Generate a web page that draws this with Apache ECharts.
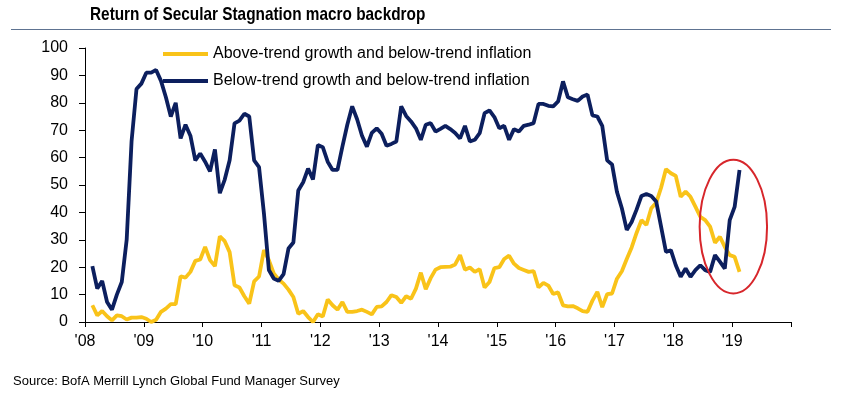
<!DOCTYPE html>
<html>
<head>
<meta charset="utf-8">
<script src="https://cdn.jsdelivr.net/npm/echarts@6/dist/echarts.min.js"></script>
<style>
  html, body { margin: 0; padding: 0; background: #fff; }
  #chart { width: 843px; height: 396px; }
</style>
</head>
<body>
<div id="chart"></div>
<script>
// monthly survey readings, Feb 2008 .. Feb 2019 (% of respondents)
const startYear = 2008;
const startMonth = 2;

const aboveTrend = [
  6.1, 2.4, 4, 2.1, 0.6, 2.4, 2.1, 0.9, 1.6, 1.6, 1.8, 1.2, 0, 0.8, 3.7, 4.9, 6.5, 6.5, 16.7, 16.2,
  18.3, 22.3, 22.8, 27.4, 22.6, 20.4, 31.3, 29.5, 25.5, 13.4, 12.6, 9.4, 6.7, 14.8, 16.6, 26.2, 22.6, 17.7, 15.5, 14,
  11.8, 9.1, 3, 4, 1.8, 0, 2.8, 2, 8.2, 6.1, 4.5, 7.3, 3.7, 3.7, 4, 4.5, 3.7, 2.8, 5.5, 5.7,
  7.3, 9.8, 9.1, 7, 9.4, 8.5, 12.2, 18, 12, 16, 19.1, 20, 20.1, 20.2, 21, 24.4, 19.1, 19.9, 18.3, 19.3,
  12.6, 14.6, 19.7, 20, 23, 24.2, 21.3, 19.7, 19, 18.3, 18.6, 12.6, 14.3, 13.3, 10.2, 10.8, 6.1, 5.7, 5.8, 5,
  4, 3.7, 7.8, 11, 5.4, 10.2, 10.4, 15.8, 18.5, 23, 27.2, 32.5, 37.2, 35.4, 41.5, 43.5, 49, 55.8, 54.3, 53.3,
  45.7, 47.6, 45.7, 42.1, 38.4, 37.2, 34.8, 28.9, 31.1, 27.4, 24.4, 23.8, 18.3
];

const belowTrend = [
  20.4, 12.2, 15, 7.3, 4.5, 10, 14.6, 30, 66, 85, 87, 91, 91, 92, 88, 82, 75, 80, 67, 72,
  68, 59, 61.5, 58.5, 55, 63, 47, 52, 59, 72.5, 73.5, 76, 75, 59, 56.5, 39.6, 19, 15.9, 15, 17.5,
  26.8, 29, 48, 51, 56, 52, 64.6, 63.8, 58.5, 55.5, 55.5, 64, 72, 78.7, 74, 68, 64, 69, 70.7, 68.7,
  64.3, 65, 65.9, 78.7, 75.2, 73.2, 70.7, 66.5, 72, 72.6, 69.5, 70.5, 71.6, 70.4, 69, 67, 71.6, 65.9, 66.5, 68.9,
  76.2, 77.2, 74.8, 70.7, 71.6, 66.5, 70.4, 69.5, 71.6, 72, 72.6, 79.6, 79.6, 78.9, 78.7, 80.5, 87.8, 82, 81.3, 80.7,
  82.3, 83, 75.4, 75, 71.6, 59, 57.5, 47.5, 41.5, 33.6, 36.5, 41, 46, 46.7, 46, 44, 34.8, 25.6, 26.2, 20.7,
  16.5, 19.5, 16.5, 18.9, 20.7, 18.9, 18.3, 24.4, 22, 19.5, 37.2, 42, 55.5
];

const seriesNames = [
  'Above-trend growth and below-trend inflation',
  'Below-trend growth and below-trend inflation'
];

const yearTicks = [2008, 2009, 2010, 2011, 2012, 2013, 2014, 2015, 2016, 2017, 2018, 2019, 2020];

// red ring around the latest readings (data units: year, percent)
const ringCenter = [2019.02, 34.8];
const ringRadius = [0.573, 24.4];

const monthPos = i => startYear + (startMonth - 1 + 0.5 + i) / 12;
const toPairs = arr => arr.map((v, i) => [monthPos(i), v]);

const font = 'Liberation Sans, Arial, sans-serif';
const yellow = '#F9C319';
const navy = '#0C1F5E';
const chart = echarts.init(document.getElementById('chart'));

const option = {
  animation: false,
  backgroundColor: '#fff',
  legend: {
    orient: 'vertical',
    left: 158,
    top: 41,
    icon: 'rect',
    itemWidth: 45,
    itemHeight: 4,
    itemGap: 11,
    textStyle: { fontFamily: font, fontSize: 16, color: '#000' },
    data: seriesNames
  },
  grid: { left: 85, right: 52, top: 48, bottom: 74 },
  xAxis: {
    type: 'value',
    min: 2008,
    max: 2020,
    interval: 1,
    axisLine: { lineStyle: { color: '#000', width: 1 } },
    axisTick: { show: true, length: 5, lineStyle: { color: '#000' } },
    axisLabel: {
      fontFamily: font,
      fontSize: 16,
      color: '#000',
      margin: 12,
      formatter: v => (yearTicks.indexOf(v) >= 0 && v < 2020) ? "'" + String(v).slice(2) : ''
    },
    splitLine: { show: false }
  },
  yAxis: {
    type: 'value',
    min: 0,
    max: 100,
    interval: 10,
    axisLine: { show: true, lineStyle: { color: '#000', width: 1 } },
    axisTick: { show: true, length: 6, lineStyle: { color: '#000' } },
    axisLabel: { fontFamily: font, fontSize: 16, color: '#000', margin: 17 },
    splitLine: { show: false }
  },
  series: [
    {
      name: seriesNames[0],
      type: 'line',
      data: toPairs(aboveTrend),
      symbol: 'none',
      lineStyle: { color: yellow, width: 3.8 },
      itemStyle: { color: yellow },
      z: 2
    },
    {
      name: seriesNames[1],
      type: 'line',
      data: toPairs(belowTrend),
      symbol: 'none',
      lineStyle: { color: navy, width: 3.8 },
      itemStyle: { color: navy },
      z: 3
    }
  ]
};

chart.setOption(option);

// annotation, header (condensed bold), rule and source line
const c = chart.convertToPixel({ gridIndex: 0 }, ringCenter);
const edge = chart.convertToPixel({ gridIndex: 0 }, [ringCenter[0] + ringRadius[0], ringCenter[1] + ringRadius[1]]);
chart.setOption({
  graphic: [
    {
      type: 'ellipse',
      shape: { cx: c[0], cy: c[1], rx: Math.abs(edge[0] - c[0]), ry: Math.abs(c[1] - edge[1]) },
      style: { fill: 'none', stroke: '#D7262B', lineWidth: 2 },
      z: 10
    },
    {
      type: 'text',
      x: 90,
      y: 5,
      scaleX: 0.83,
      style: {
        text: 'Return of Secular Stagnation macro backdrop',
        fontFamily: font,
        fontWeight: 'bold',
        fontSize: 18.5,
        fill: '#000'
      }
    },
    {
      type: 'line',
      shape: { x1: 11, y1: 29.5, x2: 831, y2: 29.5 },
      style: { stroke: '#5E7391', lineWidth: 1.2 }
    },
    {
      type: 'text',
      left: 13,
      top: 375,
      style: {
        text: 'Source: BofA Merrill Lynch Global Fund Manager Survey',
        fontFamily: font,
        fontSize: 13,
        fill: '#000'
      }
    }
  ]
});
</script>
</body>
</html>
